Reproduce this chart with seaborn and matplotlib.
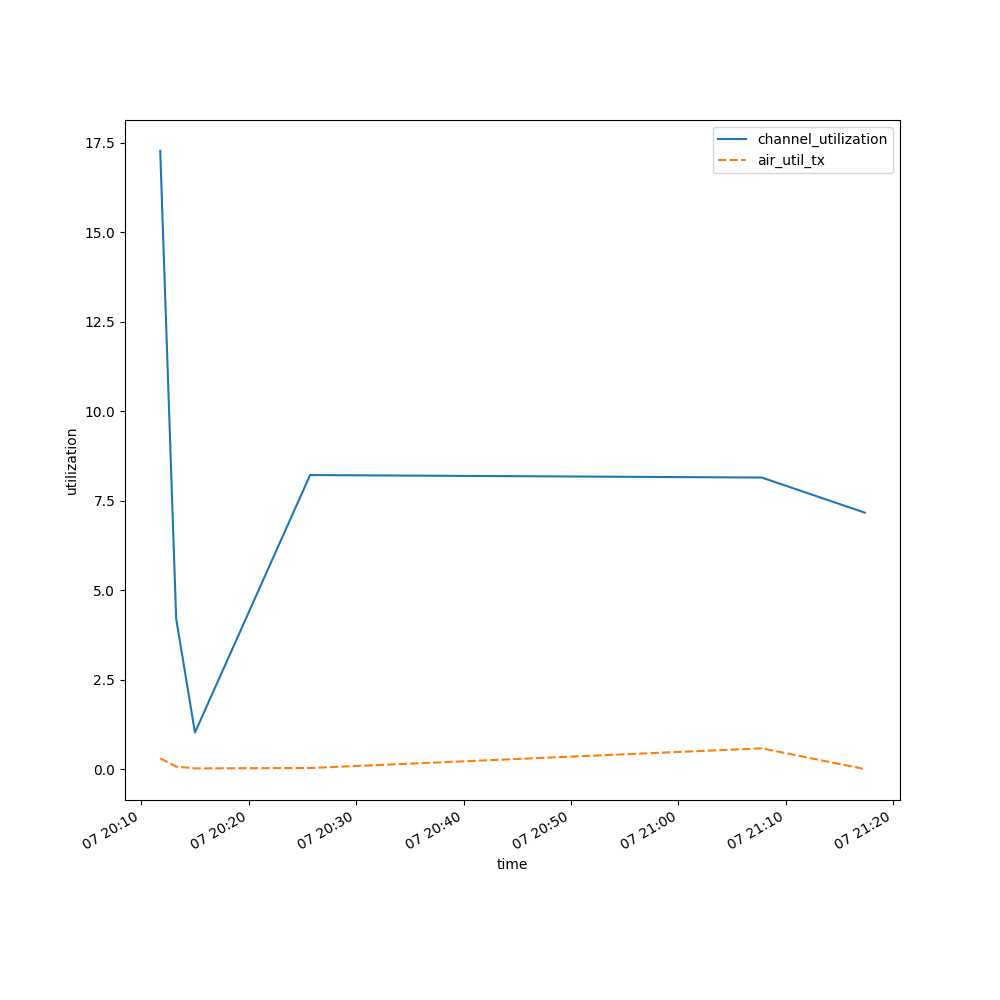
import pandas as pd
import matplotlib
matplotlib.use("Agg")
import matplotlib.pyplot as plt
import seaborn as sns

# readings
times = ["2024-01-07 20:11:46", "2024-01-07 20:13:15", "2024-01-07 20:15:00",
         "2024-01-07 20:25:43", "2024-01-07 21:07:46", "2024-01-07 21:17:21"]
channel_utilization = [17.27, 4.21, 1.03, 8.22, 8.15, 7.17]
air_util_tx = [0.31, 0.08, 0.03, 0.04, 0.59, 0.01]

df = pd.DataFrame(
    {"channel_utilization": channel_utilization, "air_util_tx": air_util_tx},
    index=pd.DatetimeIndex(pd.to_datetime(times), name="time"),
)

fig, ax = plt.subplots(figsize=(10, 10))
sns.lineplot(data=df, ax=ax)
ax.set_xlabel("time")
ax.set_ylabel("utilization")
fig.autofmt_xdate()

fig.savefig("out.png", dpi=100)
plt.close()
